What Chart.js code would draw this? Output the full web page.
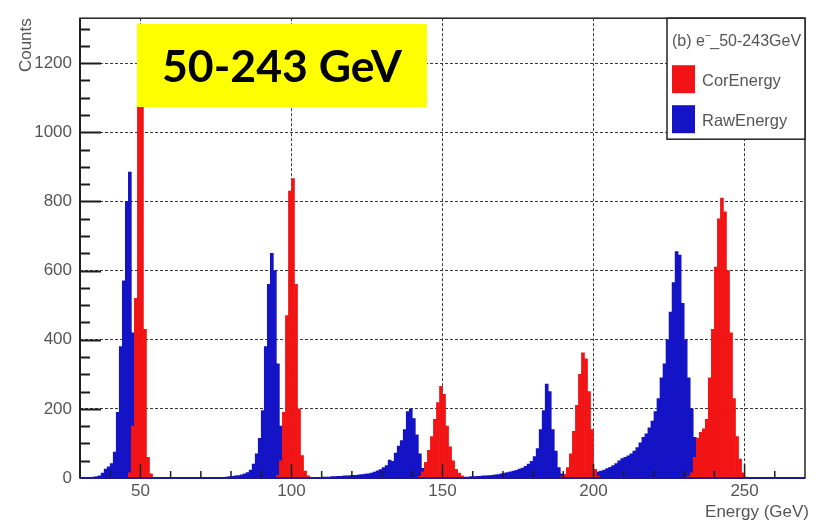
<!DOCTYPE html>
<html>
<head>
<meta charset="utf-8">
<script src="https://cdn.jsdelivr.net/npm/chart.js@4.4.1/dist/chart.umd.min.js"></script>
<style>
  html, body { margin: 0; padding: 0; background: #ffffff; }
  #wrap { width: 816px; height: 521px; position: relative; }
</style>
</head>
<body>
<div id="wrap"><canvas id="c"></canvas></div>
<script>
// Energy spectra in 1 GeV bins. Each counts array lists consecutive bins,
// starting at the lower bin edge given by the matching *Start value.

// RawEnergy (blue)
const raw46Start = 34;
const raw46Counts = [3, 4, 6, 14, 26, 32, 42, 75, 190, 380, 570, 800, 885, 420, 110, 20, 8, 4, 2];

const raw93Start = 77;
const raw93Counts = [2, 3, 4, 5, 6, 7, 9, 12, 16, 23, 40, 70, 115, 195, 380, 560, 650, 600, 330, 150, 40, 12, 5, 3, 2];

const raw139Start = 108;
const raw139Counts = [2, 2, 3, 3, 3, 4, 4, 5, 5, 6, 6, 7, 8, 8, 9, 10, 11, 12, 14, 17,
                      21, 24, 30, 36, 52, 48, 72, 92, 108, 140, 192, 200, 172, 125, 70, 28, 8, 3];

const raw185Start = 155;
const raw185Counts = [2, 3, 3, 3, 4, 4, 5, 5, 6, 6, 7, 8, 9, 10, 12, 14, 16, 18, 20, 22,
                      26, 29, 34, 40, 48, 62, 85, 140, 195, 272, 250, 140, 78, 30, 12, 10, 10, 11, 11, 12,
                      12, 13, 13, 14, 14];

const raw228Start = 200;
const raw228Counts = [16, 18, 20, 23, 27, 31, 36, 42, 50, 56, 60, 64, 70, 78, 88, 102, 118, 128, 145, 165,
                      192, 230, 290, 330, 400, 480, 565, 655, 645, 505, 400, 290, 200, 118, 55, 25, 10, 6, 4, 3,
                      3, 3, 2, 2, 2, 2, 2, 2, 2, 2, 2, 2, 2];

// CorEnergy (red)
const cor50Start = 46;
const cor50Counts = [15, 150, 520, 1270, 1180, 430, 60, 12];

const cor100Start = 95;
const cor100Counts = [8, 50, 190, 470, 830, 866, 560, 200, 65, 20, 6];

const cor150Start = 142;
const cor150Counts = [5, 18, 45, 80, 120, 170, 218, 265, 242, 150, 90, 50, 25, 14, 6, 2];

const cor198Start = 189;
const cor198Counts = [4, 10, 30, 70, 135, 210, 300, 362, 345, 250, 140, 25, 5];

const cor242Start = 231;
const cor242Counts = [5, 15, 60, 115, 132, 142, 170, 290, 430, 610, 750, 810, 770, 600, 420, 230, 120, 55, 15, 3];

// Axis ticks and labels
const xTickValues = [50, 100, 150, 200, 250];
const yTickValues = [0, 200, 400, 600, 800, 1000, 1200];
const seriesNames = ['CorEnergy', 'RawEnergy'];
const legendHeader = ['(b) e', '_50-243GeV'];
const badgeText = '50-243 GeV';

const RED = '#f21414';
const BLUE = '#1414c6';

function binPoints(start, counts) {
  return counts.map((c, i) => ({ x: start + i + 0.5, y: c }));
}

const corPoints = [].concat(
  binPoints(cor50Start, cor50Counts),
  binPoints(cor100Start, cor100Counts),
  binPoints(cor150Start, cor150Counts),
  binPoints(cor198Start, cor198Counts),
  binPoints(cor242Start, cor242Counts)
);
const rawPoints = [].concat(
  binPoints(raw46Start, raw46Counts),
  binPoints(raw93Start, raw93Counts),
  binPoints(raw139Start, raw139Counts),
  binPoints(raw185Start, raw185Counts),
  binPoints(raw228Start, raw228Counts)
);

const FONT = 'Arial, "Liberation Sans", sans-serif';
const TEXT_GREY = '#555555';

// Frame, inward tick marks and axis titles in the ROOT style
const framePlugin = {
  id: 'frame',
  afterDatasetsDraw(chart) {
    const { ctx, chartArea: a, scales: { x, y } } = chart;
    ctx.save();
    ctx.strokeStyle = '#1c1c1c';
    ctx.lineWidth = 2;
    for (let v = 50; v < y.max; v += 50) {
      const py = Math.round(y.getPixelForValue(v)) + 0.5;
      const len = v % 200 === 0 ? 21 : 10;
      ctx.beginPath(); ctx.moveTo(a.left, py); ctx.lineTo(a.left + len, py); ctx.stroke();
    }
    ctx.lineWidth = 1.5;
    for (let v = 40; v < x.max; v += 10) {
      const px = x.getPixelForValue(v);
      const len = v % 50 === 0 ? 14 : 7;
      ctx.beginPath(); ctx.moveTo(px, a.bottom); ctx.lineTo(px, a.bottom - len); ctx.stroke();
    }
    // plot frame
    ctx.strokeStyle = '#222222';
    ctx.lineWidth = 1.5;
    ctx.strokeRect(a.left, a.top, a.right - a.left, a.bottom - a.top);
    ctx.lineWidth = 2;
    ctx.beginPath(); ctx.moveTo(a.left, a.top); ctx.lineTo(a.left, a.bottom); ctx.stroke();
    ctx.strokeStyle = '#1b1b8c';
    ctx.beginPath(); ctx.moveTo(a.left, a.bottom); ctx.lineTo(a.right, a.bottom); ctx.stroke();

    // axis titles
    ctx.fillStyle = TEXT_GREY;
    ctx.font = '17px ' + FONT;
    ctx.save();
    ctx.translate(26, a.top);
    ctx.rotate(-Math.PI / 2);
    ctx.textAlign = 'right';
    ctx.textBaseline = 'middle';
    ctx.fillText('Counts', 0, 0);
    ctx.restore();
    ctx.textAlign = 'right';
    ctx.textBaseline = 'alphabetic';
    ctx.fillText('Energy (GeV)', a.right + 4, 517);
    ctx.restore();
  },
  afterDraw(chart) {
    const { ctx, chartArea: a } = chart;
    ctx.save();
    // legend box
    const lx = a.right - 138, ly = a.top, lw = 138, lh = 121;
    ctx.fillStyle = '#ffffff';
    ctx.fillRect(lx, ly, lw, lh);
    ctx.strokeStyle = '#222222';
    ctx.lineWidth = 1.5;
    ctx.strokeRect(lx, ly, lw, lh);

    ctx.fillStyle = TEXT_GREY;
    ctx.font = '16px ' + FONT;
    ctx.textBaseline = 'alphabetic';
    ctx.textAlign = 'left';
    let tx = lx + 5;
    ctx.fillText(legendHeader[0], tx, ly + 28);
    tx += ctx.measureText(legendHeader[0]).width;
    ctx.font = '11px ' + FONT;
    ctx.fillText('\u2212', tx, ly + 21);
    tx += ctx.measureText('\u2212').width - 1;
    ctx.font = '16px ' + FONT;
    ctx.fillText(legendHeader[1], tx, ly + 28);

    const colors = [RED, BLUE];
    const boxTops = [ly + 47, ly + 87];
    ctx.font = '16.5px ' + FONT;
    ctx.textBaseline = 'middle';
    for (let i = 0; i < 2; i++) {
      ctx.fillStyle = colors[i];
      ctx.fillRect(lx + 5, boxTops[i], 23, 28);
      ctx.fillStyle = TEXT_GREY;
      ctx.fillText(seriesNames[i], lx + 35, boxTops[i] + 16);
    }

    // highlighted energy-range badge
    const bx = 137, by = 24, bw = 290, bh = 83;
    ctx.fillStyle = '#ffff00';
    ctx.fillRect(bx, by, bw, bh);
    let size = 46;
    ctx.font = 'bold ' + size + 'px Lato, "Open Sans", sans-serif';
    const w = ctx.measureText(badgeText).width;
    size = size * 240 / w;
    ctx.font = 'bold ' + size.toFixed(1) + 'px Lato, "Open Sans", sans-serif';
    ctx.fillStyle = '#000000';
    ctx.textAlign = 'center';
    ctx.textBaseline = 'alphabetic';
    ctx.fillText(badgeText, bx + bw / 2, 82);
    ctx.restore();
  }
};

new Chart(document.getElementById('c'), {
  type: 'bar',
  data: {
    datasets: [
      { label: seriesNames[0], data: corPoints, backgroundColor: RED, borderWidth: 0 },
      { label: seriesNames[1], data: rawPoints, backgroundColor: BLUE, borderWidth: 0 }
    ]
  },
  options: {
    responsive: true,
    maintainAspectRatio: false,
    animation: false,
    events: [],
    grouped: false,
    barPercentage: 1,
    categoryPercentage: 1,
    layout: { padding: { top: 12, right: 11, left: 0, bottom: 0 } },
    plugins: { legend: { display: false }, tooltip: { enabled: false }, title: { display: false } },
    scales: {
      x: {
        type: 'linear',
        min: 30,
        max: 270,
        offset: false,
        afterBuildTicks: (s) => { s.ticks = xTickValues.map(v => ({ value: v })); },
        afterFit: (s) => { s.height = 43; },
        ticks: { padding: 3, color: TEXT_GREY, font: { family: FONT, size: 17 }, maxRotation: 0, autoSkip: false,
                 callback: (v) => String(v) },
        grid: { offset: false, drawTicks: false, color: '#3a3a3a', lineWidth: 1 },
        border: { display: false, dash: [3, 2] }
      },
      y: {
        type: 'linear',
        min: 0,
        max: 1330,
        afterBuildTicks: (s) => { s.ticks = yTickValues.map(v => ({ value: v })); },
        afterFit: (s) => { s.width = 80; },
        ticks: { padding: 8, color: TEXT_GREY, font: { family: FONT, size: 17 }, callback: (v) => String(v) },
        grid: { drawTicks: false, color: '#3a3a3a', lineWidth: 1 },
        border: { display: false, dash: [3, 2] }
      }
    }
  },
  plugins: [framePlugin]
});
</script>
</body>
</html>
